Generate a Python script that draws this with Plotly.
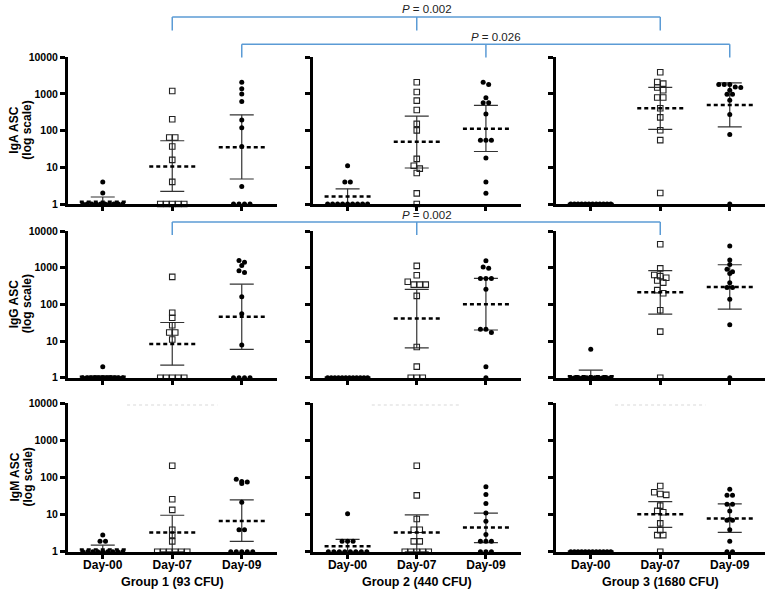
import numpy as np
import plotly.graph_objects as go

# ---------------- data ----------------
groups = ["Group 1 (93 CFU)", "Group 2 (440 CFU)", "Group 3 (1680 CFU)"]
days = ["Day-00", "Day-07", "Day-09"]
isotypes = ["IgA", "IgG", "IgM"]
y_tick_vals = [1, 10, 100, 1000, 10000]
y_tick_text = ["1", "10", "100", "1000", "10000"]

# IgA ASC
iga_g1_d00 = [4, 2, 1, 1, 1, 1, 1, 1, 1, 1, 1, 1]
iga_g1_d07 = [1200, 204, 65, 65, 37, 16, 4, 1, 1, 1, 1, 1]
iga_g1_d09 = [2090, 1380, 1000, 620, 195, 120, 37, 3, 1, 1, 1, 1]
iga_g2_d00 = [11, 4, 4, 1, 1, 1, 1, 1, 1, 1, 1, 1]
iga_g2_d07 = [2090, 1130, 660, 365, 153, 102, 17, 11, 9.2, 7, 1.95, 1]
iga_g2_d09 = [2090, 1800, 790, 580, 580, 284, 55, 55, 55, 18, 4, 1.95]
iga_g3_d00 = [1, 1, 1, 1, 1, 1, 1, 1, 1, 1, 1, 1]
iga_g3_d07 = [3900, 2130, 1920, 1500, 1260, 800, 800, 410, 230, 103, 55, 2.0]
iga_g3_d09 = [1810, 1810, 1810, 1550, 1500, 1260, 980, 980, 675, 275, 79, 1]

# IgG ASC
igg_g1_d00 = [2, 1, 1, 1, 1, 1, 1, 1, 1, 1, 1, 1]
igg_g1_d07 = [560, 59, 43, 27, 17, 17, 11, 1, 1, 1, 1, 1]
igg_g1_d09 = [1580, 1400, 1150, 830, 740, 162, 55, 7.8, 1, 1, 1, 1]
igg_g2_d00 = [1, 1, 1, 1, 1, 1, 1, 1, 1, 1, 1, 1]
igg_g2_d07 = [1120, 620, 415, 345, 345, 345, 170, 6.9, 2.0, 1, 1, 1]
igg_g2_d09 = [1550, 1050, 960, 510, 510, 510, 257, 21, 21, 17, 2, 1]
igg_g3_d00 = [6, 1, 1, 1, 1, 1, 1, 1, 1, 1, 1, 1]
igg_g3_d07 = [4350, 960, 630, 590, 530, 445, 390, 245, 200, 69, 18, 1]
igg_g3_d09 = [3900, 1620, 1230, 910, 780, 690, 390, 290, 290, 137, 28, 1]

# IgM ASC
igm_g1_d00 = [2.8, 1.9, 1.9, 1, 1, 1, 1, 1, 1, 1, 1, 1]
igm_g1_d07 = [208, 26, 13.4, 3.9, 2.8, 1.9, 1, 1, 1, 1, 1, 1]
igm_g1_d09 = [90, 78, 76, 69, 21.5, 3.9, 3.9, 1, 1, 1, 1, 1]
igm_g2_d00 = [10.6, 1.9, 1.9, 1.9, 1, 1, 1, 1, 1, 1, 1, 1]
igm_g2_d07 = [208, 33, 7.6, 3.9, 3.9, 1.9, 1.9, 1, 1, 1, 1, 1]
igm_g2_d09 = [56, 35, 20, 11, 6.6, 2.9, 1.9, 1.9, 1.9, 1, 1, 1]
igm_g3_d00 = [1, 1, 1, 1, 1, 1, 1, 1, 1, 1, 1, 1]
igm_g3_d07 = [59, 40, 36, 34, 17.5, 12.6, 11.6, 5.8, 3.8, 2.8, 2.8, 1]
igm_g3_d09 = [48, 33, 33, 19, 19, 12.6, 7, 7, 3.9, 1.9, 1, 1]

# geometric mean and 95% CI per group, [Day-00, Day-07, Day-09]
iga_g1_mean = [1.15, 10.6, 35];  iga_g1_lo = [1.0, 2.2, 4.8];   iga_g1_hi = [1.55, 53, 270]
iga_g2_mean = [1.6, 50, 113];    iga_g2_lo = [1.0, 9.6, 27];    iga_g2_hi = [2.6, 250, 490]
iga_g3_mean = [1.0, 410, 500];   iga_g3_lo = [1.0, 108, 126];   iga_g3_hi = [1.0, 1520, 2000]
igg_g1_mean = [1.06, 8.3, 46];   igg_g1_lo = [1.0, 2.2, 5.9];   igg_g1_hi = [1.12, 32, 355]
igg_g2_mean = [1.0, 41, 100];    igg_g2_lo = [1.0, 6.5, 20];    igg_g2_hi = [1.0, 257, 510]
igg_g3_mean = [1.1, 213, 296];   igg_g3_lo = [1.0, 54, 74];     igg_g3_hi = [1.6, 830, 1200]
igm_g1_mean = [1.15, 3.3, 6.7];  igm_g1_lo = [1.0, 1.0, 1.9];   igm_g1_hi = [1.5, 9.6, 25]
igm_g2_mean = [1.4, 3.3, 4.5];   igm_g2_lo = [1.0, 1.0, 1.75];  igm_g2_hi = [2.15, 9.8, 11]
igm_g3_mean = [1.0, 10.2, 7.9];  igm_g3_lo = [1.0, 4.5, 3.3];   igm_g3_hi = [1.0, 22.5, 19.5]

points = {
    ("IgA", 0): [iga_g1_d00, iga_g1_d07, iga_g1_d09],
    ("IgA", 1): [iga_g2_d00, iga_g2_d07, iga_g2_d09],
    ("IgA", 2): [iga_g3_d00, iga_g3_d07, iga_g3_d09],
    ("IgG", 0): [igg_g1_d00, igg_g1_d07, igg_g1_d09],
    ("IgG", 1): [igg_g2_d00, igg_g2_d07, igg_g2_d09],
    ("IgG", 2): [igg_g3_d00, igg_g3_d07, igg_g3_d09],
    ("IgM", 0): [igm_g1_d00, igm_g1_d07, igm_g1_d09],
    ("IgM", 1): [igm_g2_d00, igm_g2_d07, igm_g2_d09],
    ("IgM", 2): [igm_g3_d00, igm_g3_d07, igm_g3_d09],
}
summary = {
    ("IgA", 0): (iga_g1_mean, iga_g1_lo, iga_g1_hi),
    ("IgA", 1): (iga_g2_mean, iga_g2_lo, iga_g2_hi),
    ("IgA", 2): (iga_g3_mean, iga_g3_lo, iga_g3_hi),
    ("IgG", 0): (igg_g1_mean, igg_g1_lo, igg_g1_hi),
    ("IgG", 1): (igg_g2_mean, igg_g2_lo, igg_g2_hi),
    ("IgG", 2): (igg_g3_mean, igg_g3_lo, igg_g3_hi),
    ("IgM", 0): (igm_g1_mean, igm_g1_lo, igm_g1_hi),
    ("IgM", 1): (igm_g2_mean, igm_g2_lo, igm_g2_hi),
    ("IgM", 2): (igm_g3_mean, igm_g3_lo, igm_g3_hi),
}
# significance brackets: (row, day index, label)
brackets = [(0, 1, "<i>P</i> = 0.002"), (0, 2, "<i>P</i> = 0.026"), (1, 1, "<i>P</i> = 0.002")]

# ---------------- layout geometry ----------------
W, H = 771, 594
col_px = [(68, 276.5), (313, 520.5), (556, 764.5)]
row_px = [(57.3, 204), (231, 377.7), (403.3, 551.7)]
decade_px = (204 - 57.3) / 4.0
FONT = "Liberation Sans, Arial, sans-serif"


def cat_px(col, cat):
    x0, x1 = col_px[col]
    return x0 + (cat + 0.5) * (x1 - x0) / 3.0


def swarm(vals, spacing_px, max_w_px, cat_w_px, thresh_px=4.0):
    vals = np.asarray(vals, float)
    order = np.argsort(-vals, kind="stable")
    offs = np.zeros(len(vals))
    logs = np.log10(vals)
    rows, cur = [], []
    for idx in order:
        if cur and abs(logs[cur[0]] - logs[idx]) * decade_px >= thresh_px:
            rows.append(cur)
            cur = []
        cur.append(idx)
    if cur:
        rows.append(cur)
    for r in rows:
        n = len(r)
        s = spacing_px if n <= 1 else min(spacing_px, max_w_px / (n - 1))
        for j, idx in enumerate(r):
            offs[idx] = (j - (n - 1) / 2.0) * s / cat_w_px
    return offs


fig = go.Figure()
layout = dict(
    width=W, height=H, margin=dict(l=0, r=0, t=0, b=0),
    paper_bgcolor="white", plot_bgcolor="white", showlegend=False,
    annotations=[], shapes=[],
)

for r, iso in enumerate(isotypes):
    for c in range(3):
        k = r * 3 + c + 1
        xs = "" if k == 1 else str(k)
        x0, x1 = col_px[c]
        y0, y1 = row_px[r]
        cat_w = (x1 - x0) / 3.0
        layout["xaxis" + xs] = dict(
            domain=[x0 / W, x1 / W], range=[-0.5, 2.5], anchor="y" + xs,
            tickvals=[0, 1, 2], ticktext=days, showticklabels=(r == 2),
            showline=True, linewidth=3, linecolor="black", mirror=False,
            ticks="outside", ticklen=4, tickwidth=2.5, tickcolor="black",
            ticklabelstandoff=-4,
            showgrid=False, zeroline=False, automargin=False,
            tickfont=dict(family=FONT, size=12, color="black", weight="bold"),
        )
        layout["yaxis" + xs] = dict(
            domain=[1 - y1 / H, 1 - y0 / H], type="log", range=[0, 4], anchor="x" + xs,
            tickvals=y_tick_vals, ticktext=y_tick_text, showticklabels=(c == 0),
            showline=True, linewidth=3, linecolor="black",
            ticks="outside", ticklen=5, tickwidth=2.5, tickcolor="black",
            showgrid=False, zeroline=False, automargin=False,
            tickfont=dict(family=FONT, size=10.5, color="black", weight="bold"),
        )
        means, los, his = summary[(iso, c)]
        for d in range(3):
            vals = points[(iso, c)][d]
            square = d == 1
            offs = swarm(vals, 6.0 if square else 5.5, 40.0, cat_w)
            # error bar (95% CI)
            cw = 12.0 / cat_w
            fig.add_trace(go.Scatter(
                x=[d, d, None, d - cw, d + cw, None, d - cw, d + cw],
                y=[los[d], his[d], None, his[d], his[d], None, los[d], los[d]],
                mode="lines", line=dict(color="#333333", width=1.2),
                xaxis="x" + xs, yaxis="y" + xs, cliponaxis=False, hoverinfo="skip"))
            # points
            if square:
                mk = dict(symbol="square-open", size=5.5, color="#222222",
                          line=dict(width=1.1, color="#222222"))
            else:
                mk = dict(symbol="circle", size=5, color="black", line=dict(width=0))
            fig.add_trace(go.Scatter(
                x=d + offs, y=vals, mode="markers", marker=mk,
                xaxis="x" + xs, yaxis="y" + xs, cliponaxis=False))
            # mean line
            mw = 23.0 / cat_w
            fig.add_trace(go.Scatter(
                x=[d - mw, d + mw], y=[means[d], means[d]], mode="lines",
                line=dict(color="black", width=2.5, dash="4px,3px"),
                xaxis="x" + xs, yaxis="y" + xs, cliponaxis=False, hoverinfo="skip"))

    # y titles
    yc = 1 - (row_px[r][0] + row_px[r][1]) / 2 / H
    layout["annotations"].append(dict(
        text=f"{iso} ASC", x=14 / W, y=yc, xref="paper", yref="paper",
        textangle=-90, showarrow=False, xanchor="center", yanchor="middle",
        font=dict(family=FONT, size=12, color="black", weight="bold")))
    layout["annotations"].append(dict(
        text="(log scale)", x=27 / W, y=yc, xref="paper", yref="paper",
        textangle=-90, showarrow=False, xanchor="center", yanchor="middle",
        font=dict(family=FONT, size=12, color="black", weight="bold")))

# group titles
for c, g in enumerate(groups):
    layout["annotations"].append(dict(
        text=g, x=cat_px(c, 1) / W, y=1 - 582 / H, xref="paper", yref="paper",
        showarrow=False, xanchor="center", yanchor="middle",
        font=dict(family=FONT, size=12.5, color="black", weight="bold")))

# significance brackets
BLUE = "#5b9bd5"
bracket_y = {(0, 1): (17, 30.5, 9), (0, 2): (44.3, 57.5, 37), (1, 1): (222, 235, 214.5)}
for (row, d, label) in brackets:
    ytop, ybot, ytxt = bracket_y[(row, d)]
    xl, xm, xr = cat_px(0, d), cat_px(1, d), cat_px(2, d)
    for (xa, ya, xb, yb) in [(xl, ytop, xr, ytop), (xl, ytop, xl, ybot),
                             (xr, ytop, xr, ybot), (xm, ytop, xm, ybot)]:
        layout["shapes"].append(dict(
            type="line", xref="paper", yref="paper",
            x0=xa / W, y0=1 - ya / H, x1=xb / W, y1=1 - yb / H,
            line=dict(color=BLUE, width=1.5)))
    layout["annotations"].append(dict(
        text=label, x=(xm + 10) / W, y=1 - ytxt / H, xref="paper", yref="paper",
        showarrow=False, xanchor="center", yanchor="middle",
        font=dict(family=FONT, size=11.5, color="#222222")))

# faint remnants at top of bottom row
for c in range(3):
    layout["shapes"].append(dict(
        type="line", xref="paper", yref="paper",
        x0=cat_px(c, 0.35) / W, x1=cat_px(c, 1.65) / W,
        y0=1 - 405 / H, y1=1 - 405 / H,
        line=dict(color="#ececec", width=2, dash="dot")))

fig.update_layout(**layout)
fig.write_html(
    "out.html",
    config={"displayModeBar": False},
    post_script="document.body.style.margin='0';document.body.style.padding='0';"
                "document.body.style.overflow='hidden';",
)
